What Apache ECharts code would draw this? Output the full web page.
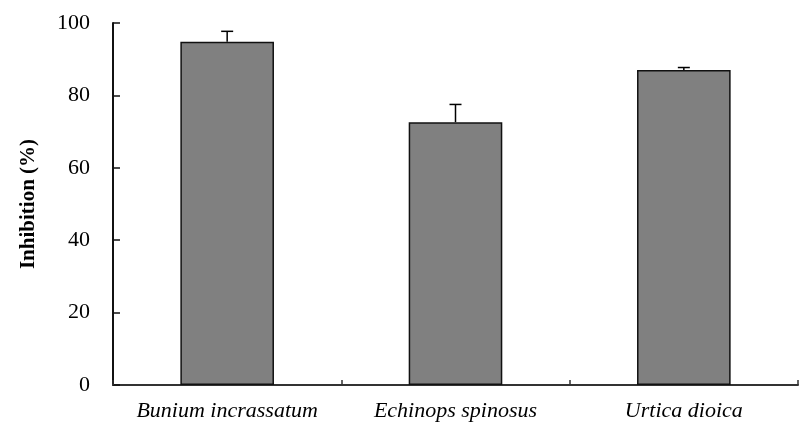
<!DOCTYPE html>
<html>
<head>
<meta charset="utf-8">
<script src="https://cdn.jsdelivr.net/npm/echarts@6/dist/echarts.min.js"></script>
<style>
html,body{margin:0;padding:0;background:#fff;}
#chart{width:801px;height:422px;}
</style>
</head>
<body>
<div id="chart"></div>
<script>
var categories = ['Bunium incrassatum', 'Echinops spinosus', 'Urtica dioica'];
var inhibition = [94.8, 72.6, 87.0];
var errors = [2.9, 4.9, 0.7];
var yTicks = [0, 20, 40, 60, 80, 100];

var chart = echarts.init(document.getElementById('chart'));
var errData = categories.map(function (c, i) { return [i, inhibition[i], inhibition[i] + errors[i]]; });

chart.setOption({
  animation: false,
  backgroundColor: '#fff',
  grid: { left: 113, right: 3, top: 23, bottom: 37, containLabel: false },
  xAxis: {
    type: 'category',
    data: categories,
    axisLine: { lineStyle: { color: '#333', width: 2 } },
    axisTick: { show: true, inside: true, length: 5, interval: 0, lineStyle: { color: '#333', width: 1.5 } },
    axisLabel: { interval: 0, hideOverlap: false, fontFamily: '"Liberation Serif", "Times New Roman", serif', fontStyle: 'italic', fontSize: 22, color: '#000', margin: 15 }
  },
  yAxis: {
    type: 'value',
    min: yTicks[0],
    max: yTicks[yTicks.length - 1],
    interval: 20,
    name: 'Inhibition (%)',
    nameLocation: 'middle',
    nameGap: 74,
    nameTextStyle: { fontFamily: '"Liberation Serif", "Times New Roman", serif', fontWeight: 'bold', fontSize: 21, color: '#000' },
    axisLine: { show: true, lineStyle: { color: '#111', width: 2 } },
    axisTick: { show: true, inside: true, length: 7, lineStyle: { color: '#111', width: 1.5 } },
    splitLine: { show: false },
    axisLabel: { fontFamily: '"Liberation Serif", "Times New Roman", serif', fontSize: 22, color: '#000', margin: 23 }
  },
  series: [
    {
      type: 'bar',
      data: inhibition,
      barWidth: '41%',
      itemStyle: { color: '#808080', borderColor: '#111', borderWidth: 1.5 }
    },
    {
      type: 'custom',
      data: errData,
      z: 10,
      renderItem: function (params, api) {
        var base = api.coord([api.value(0), api.value(1)]);
        var top = api.coord([api.value(0), api.value(2)]);
        var hw = 6;
        return {
          type: 'group',
          children: [
            { type: 'line', shape: { x1: base[0], y1: base[1], x2: top[0], y2: top[1] }, style: { stroke: '#000', lineWidth: 1.5 } },
            { type: 'line', shape: { x1: top[0] - hw, y1: top[1], x2: top[0] + hw, y2: top[1] }, style: { stroke: '#000', lineWidth: 1.5 } }
          ]
        };
      }
    }
  ]
});
</script>
</body>
</html>
